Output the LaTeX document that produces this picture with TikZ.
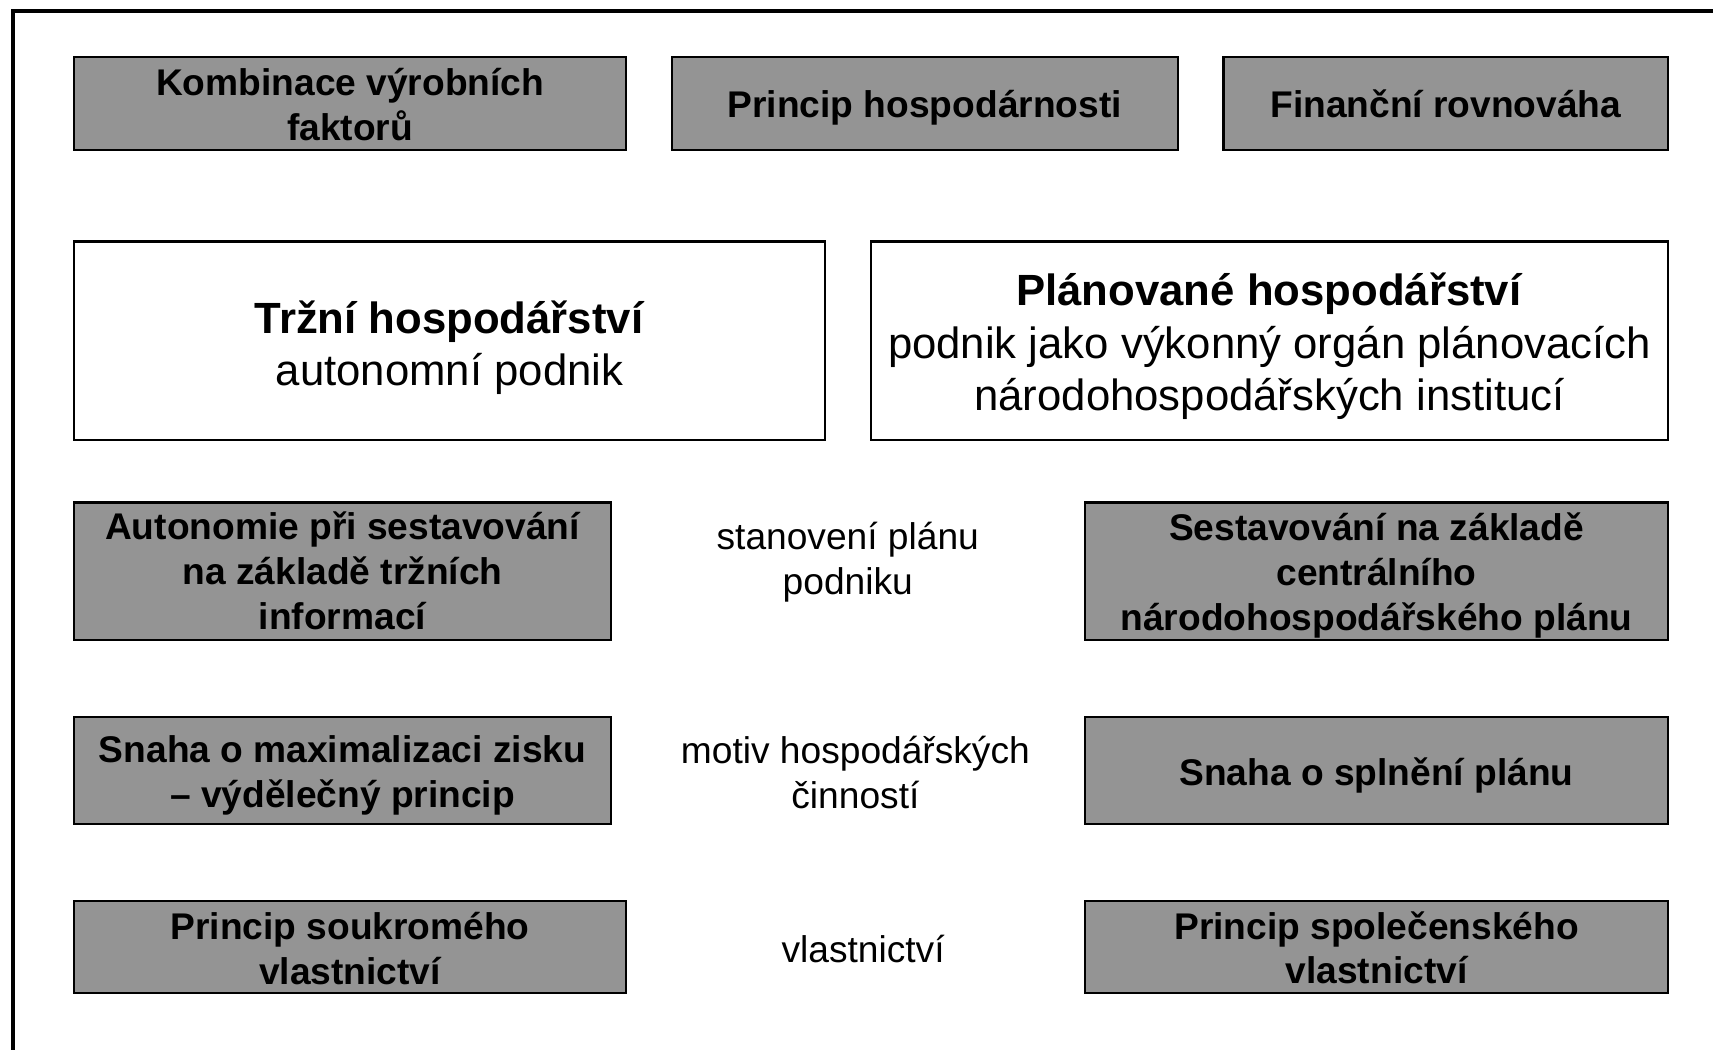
\documentclass[tikz,border=0pt]{standalone}
\usepackage{fontspec}
\setmainfont{Liberation Sans}
\newcommand\lowtext[2]{\raisebox{-#1}[\height][\depth]{\begin{tabular}{@{}c@{}}#2\end{tabular}}}
\begin{document}
\begin{tikzpicture}[x=0.5pt,y=-0.5pt,
  gbox/.style={draw=black, line width=1pt, fill=black!42, rectangle, inner sep=0pt,
    font=\fontsize{17}{20.5}\selectfont\bfseries},
  wbox/.style={draw=black, line width=1pt, fill=white, rectangle, inner sep=0pt,
    font=\fontsize{20}{24}\selectfont},
  midlabel/.style={inner sep=0pt, font=\fontsize{17}{20.5}\selectfont}]
\useasboundingbox (0,0) rectangle (1568,961);
\draw[line width=1.5pt] (12,961) -- (12,10) -- (1568,10);
% row 1
\node[gbox, minimum width=252.5pt, minimum height=42.5pt] (b1) at (320.5,94.5) {\lowtext{2.6pt}{Kombinace výrobních\\faktorů}};
\node[gbox, minimum width=231.5pt, minimum height=42.5pt] (b2) at (846.5,94.5) {\lowtext{2.3pt}{Princip hospodárnosti}};
\node[gbox, minimum width=203.5pt, minimum height=42.5pt] (b3) at (1323.5,94.5) {\lowtext{2.3pt}{Finanční rovnováha}};
% row 2
\node[wbox, minimum width=343.5pt, minimum height=91pt] (w1) at (411.5,312) {\lowtext{3.7pt}{\textbf{Tržní hospodářství}\\autonomní podnik}};
\node[wbox, minimum width=365pt, minimum height=91pt] (w2) at (1162,312) {\lowtext{3.2pt}{\textbf{Plánované hospodářství}\\podnik jako výkonný orgán plánovacích\\národohospodářských institucí}};
% row 3
\node[gbox, minimum width=245.5pt, minimum height=63pt] (r3l) at (313.5,523) {\lowtext{2pt}{Autonomie při sestavování\\na základě tržních\\informací}};
\node[midlabel] (m3) at (776,511.5) {\lowtext{2pt}{stanovení plánu\\podniku}};
\node[gbox, minimum width=267pt, minimum height=63pt] (r3r) at (1260,523) {\lowtext{2.3pt}{Sestavování na základě\\centrálního\\národohospodářského plánu}};
% row 4
\node[gbox, minimum width=245.5pt, minimum height=49pt] (r4l) at (313.5,705) {\lowtext{2.7pt}{Snaha o maximalizaci zisku\\– výdělečný princip}};
\node[midlabel] (m4) at (783,707.5) {\lowtext{2pt}{motiv hospodářských\\činností}};
\node[gbox, minimum width=267pt, minimum height=49pt] (r4r) at (1260,705) {\lowtext{2.8pt}{Snaha o splnění plánu}};
% row 5
\node[gbox, minimum width=252.5pt, minimum height=42pt] (r5l) at (320.5,867) {\lowtext{2.7pt}{Princip soukromého\\vlastnictví}};
\node[midlabel] (m5) at (790,869) {\lowtext{2pt}{vlastnictví}};
\node[gbox, minimum width=267pt, minimum height=42pt] (r5r) at (1260,867) {\lowtext{2.5pt}{Princip společenského\\vlastnictví}};
\end{tikzpicture}
\end{document}
